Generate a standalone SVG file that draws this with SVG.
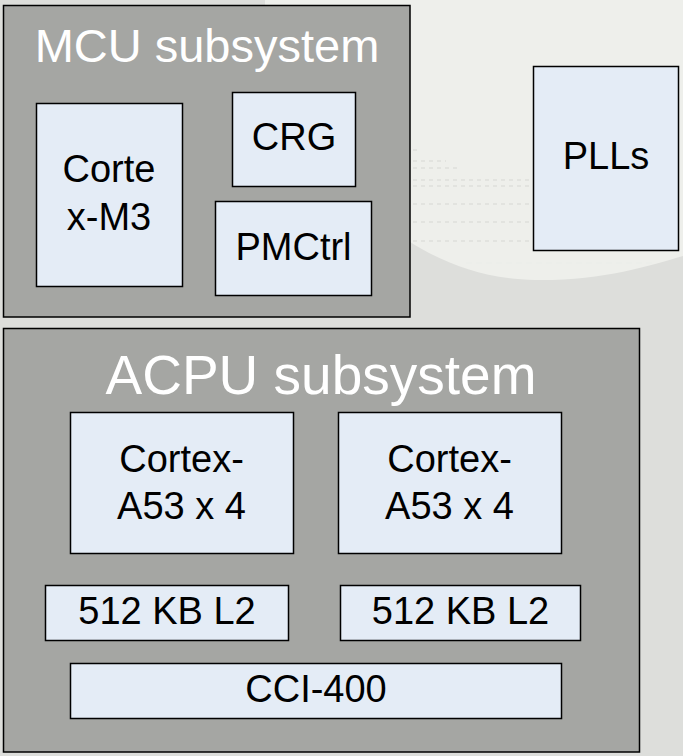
<svg xmlns="http://www.w3.org/2000/svg" width="683" height="756" viewBox="0 0 683 756">
<style>
.sub{fill:#a5a6a3;stroke:#000;stroke-width:1.5}
.blk{fill:#e4ecf6;stroke:#000;stroke-width:1.5}
.t{font-family:"Liberation Sans",Arial,sans-serif;fill:#000;font-size:38px;text-anchor:middle}
.title{font-family:"Liberation Sans",Arial,sans-serif;fill:#fff;text-anchor:middle}
.dl{stroke:#e2e3df;stroke-width:2;stroke-dasharray:4 4;fill:none}
.dd{stroke:#eceeea;stroke-width:2;stroke-dasharray:6 4;fill:none}
</style>
<rect x="0" y="0" width="683" height="756" fill="#dddedb"/>
<path d="M265,0 H683 V256 C650,266 600,281 535,280 C485,279 445,264 410,242 V5 H265 Z" fill="#eeefeb"/>
<g id="pattern">
<path class="dl" d="M413,150 H421 M413,161 H446 M413,168 H460 M413,180 H530 M413,186 H530 M413,204 H530 M413,222 H530 M413,241 H530"/>
<path class="dd" d="M466,263 H655"/>
</g>
<g id="mcu">
<rect class="sub" x="3.5" y="5.5" width="406.5" height="311.5"/>
<text class="title" x="207" y="62" font-size="47">MCU subsystem</text>
</g>
<g id="cortex-m3">
<rect class="blk" x="36.5" y="103.5" width="146" height="183"/>
<text class="t" x="109" y="181.5">Corte</text>
<text class="t" x="109" y="229.5">x-M3</text>
</g>
<g id="crg">
<rect class="blk" x="232.5" y="92.5" width="123" height="94"/>
<text class="t" x="294" y="150">CRG</text>
</g>
<g id="pmctrl">
<rect class="blk" x="215.5" y="201.5" width="156" height="94"/>
<text class="t" x="293.5" y="259.5">PMCtrl</text>
</g>
<g id="plls">
<rect class="blk" x="533.5" y="66.5" width="145" height="184"/>
<text class="t" x="606" y="168.5">PLLs</text>
</g>
<g id="acpu">
<rect class="sub" x="3.5" y="328.5" width="636" height="423.5"/>
<text class="title" x="321" y="394" font-size="55">ACPU subsystem</text>
</g>
<g id="a53-1">
<rect class="blk" x="70.5" y="412.5" width="223" height="141"/>
<text class="t" x="181.5" y="471.5">Cortex-</text>
<text class="t" x="181.5" y="519">A53 x 4</text>
</g>
<g id="a53-2">
<rect class="blk" x="338.5" y="412.5" width="223" height="141"/>
<text class="t" x="449.5" y="471.5">Cortex-</text>
<text class="t" x="449.5" y="519">A53 x 4</text>
</g>
<g id="l2-1">
<rect class="blk" x="45.5" y="585.5" width="243" height="55"/>
<text class="t" x="167" y="624">512 KB L2</text>
</g>
<g id="l2-2">
<rect class="blk" x="340.5" y="585.5" width="240" height="55"/>
<text class="t" x="460.5" y="624">512 KB L2</text>
</g>
<g id="cci">
<rect class="blk" x="70.5" y="663.5" width="491" height="55"/>
<text class="t" x="316" y="702">CCI-400</text>
</g>
<g id="connectors"/>
</svg>
